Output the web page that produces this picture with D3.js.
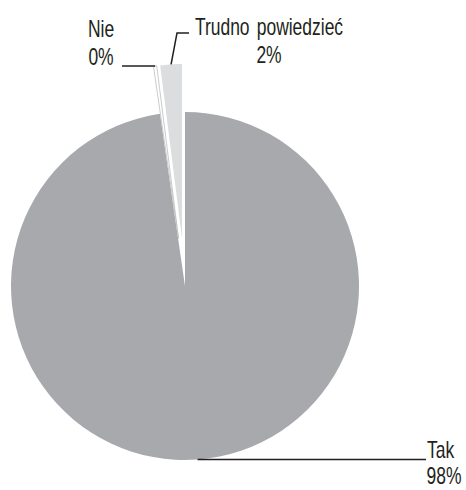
<!DOCTYPE html>
<html>
<head>
<meta charset="utf-8">
<script src="https://cdn.jsdelivr.net/npm/d3@7"></script>
<style>
  body { margin: 0; background: #fff; }
  text { font-family: "Liberation Sans", Arial, sans-serif; fill: #231f20; }
</style>
</head>
<body>
<div id="chart"></div>
<script>
// answers in clockwise order from 12 o'clock
const categories = ["Tak", "Nie", "Trudno powiedzieć"];
const values = [97.7, 0.3, 2.0];
const colors = ["#a7a9ac", "#ffffff", "#dcddde"];
const exploded = [false, true, true];

const width = 466, height = 490;
const cx = 185, cy = 286, radius = 174, explode = 48;

const svg = d3.select("#chart").append("svg")
  .attr("width", width)
  .attr("height", height);

const g = svg.append("g").attr("transform", `translate(${cx},${cy})`);

const data = categories.map((c, i) => ({ name: c, value: values[i], color: colors[i], out: exploded[i] }));

const pie = d3.pie().value(d => d.value).sort(null);
const arc = d3.arc().innerRadius(0).outerRadius(radius);
const arcs = pie(data);

function offset(d) {
  if (!d.data.out) return [0, 0];
  const a = (d.startAngle + d.endAngle) / 2;
  return [Math.sin(a) * explode, -Math.cos(a) * explode];
}

function edgePoint(d) {
  const a = (d.startAngle + d.endAngle) / 2;
  const [ox, oy] = offset(d);
  return [cx + ox + Math.sin(a) * radius, cy + oy - Math.cos(a) * radius];
}

g.selectAll("path.slice")
  .data(arcs)
  .enter()
  .append("path")
  .attr("class", "slice")
  .attr("d", arc)
  .attr("transform", d => `translate(${offset(d)})`)
  .attr("fill", d => d.data.color)
  .attr("stroke", d => d.data.color === "#ffffff" ? "#bcbec0" : "none")
  .attr("stroke-width", 0.8);

// condensed look: squeeze the text horizontally
function label(x, y, txt, anchor) {
  svg.append("text")
    .attr("transform", `translate(${x},${y}) scale(0.76,1)`)
    .attr("text-anchor", anchor || "middle")
    .attr("font-size", 23)
    .attr("word-spacing", 3)
    .text(txt);
}

const pct = d => Math.round(d.data.value) + "%";
const lines = svg.append("g")
  .attr("fill", "none")
  .attr("stroke", "#231f20")
  .attr("stroke-width", 1.5);

// Tak: line running right from bottom of pie
const tak = arcs[0], pTak = edgePoint(tak);
lines.append("path").attr("d", d3.line()([pTak, [426, pTak[1]]]));
label(427, pTak[1] - 2, tak.data.name, "start");
label(444, 484, pct(tak));

// Nie: line running left
const nie = arcs[1], pNie = edgePoint(nie);
lines.append("path").attr("d", d3.line()([pNie, [122, pNie[1]]]));
label(101, 37, nie.data.name);
label(101, 65, pct(nie));

// Trudno powiedzieć: elbow line up and right
const tr = arcs[2], pTr = edgePoint(tr);
lines.append("path").attr("d", d3.line()([pTr, [177, 33], [189, 33]]));
label(269, 35, tr.data.name);
label(269, 63, pct(tr));
</script>
</body>
</html>
